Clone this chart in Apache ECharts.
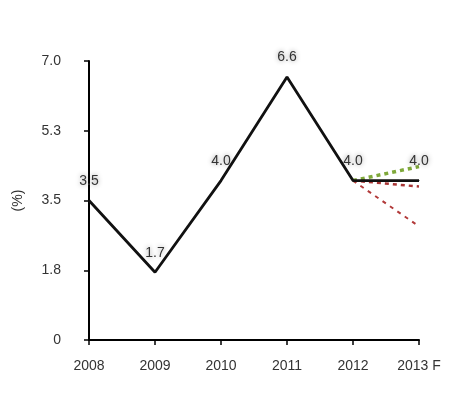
<!DOCTYPE html>
<html><head><meta charset="utf-8">
<script src="https://cdn.jsdelivr.net/npm/echarts@6/dist/echarts.min.js"></script>
<style>html,body{margin:0;padding:0;background:#fff}#c{width:474px;height:396px}</style>
</head><body><div id="c"></div>
<script>
var categories = ['2008','2009','2010','2011','2012','2013 F'];
var actual = [3.5, 1.7, 4.0, 6.6, 4.0, 4.0];
var forecastHigh = [null, null, null, null, 4.0, 4.35];
var forecastMid = [null, null, null, null, 4.0, 3.85];
var forecastLow = [null, null, null, null, 4.0, 2.85];
var labelShow = [true, true, true, true, true, true];

var chart = echarts.init(document.getElementById('c'));
var font = '"Liberation Sans", Arial, sans-serif';
chart.setOption({
  animation: false,
  grid: {left: 89, right: 55, top: 61, bottom: 56},
  xAxis: {
    type: 'category', data: categories, boundaryGap: false,
    axisLine: {lineStyle: {color: '#000', width: 2}},
    axisTick: {show: true, alignWithLabel: true, length: 5, lineStyle: {color: '#000', width: 1.5}},
    axisLabel: {color: '#333', fontSize: 14, fontFamily: font, margin: 19}
  },
  yAxis: {
    type: 'value', min: 0, max: 7, interval: 1.75,
    name: '(%)', nameLocation: 'middle', nameGap: 64, nameRotate: 90,
    nameTextStyle: {color: '#333', fontSize: 14, fontFamily: font},
    splitLine: {show: false},
    axisLine: {show: true, lineStyle: {color: '#000', width: 2}},
    axisTick: {show: true, length: 5, lineStyle: {color: '#000', width: 1.5}},
    axisLabel: {color: '#333', fontSize: 14, fontFamily: font, margin: 28,
      formatter: function (v) { return v === 0 ? '0' : v.toFixed(1); }}
  },
  series: [
    {type: 'line', data: forecastLow, symbol: 'none', z: 2,
     lineStyle: {color: '#b23a3a', width: 2, type: [4, 5]}},
    {type: 'line', data: forecastMid, symbol: 'none', z: 2,
     lineStyle: {color: '#a83434', width: 2.5, type: [4, 4]}},
    {type: 'line', data: forecastHigh, symbol: 'none', z: 2,
     lineStyle: {color: '#7fa83a', width: 3.5, type: [4, 4]}},
    {type: 'line', data: actual, symbol: 'circle', symbolSize: 1, z: 3,
     lineStyle: {color: '#111', width: 2.8},
     itemStyle: {color: '#111'},
     label: {show: true, position: 'top', distance: 12, color: '#333', fontSize: 14, fontFamily: font,
       textShadowColor: 'rgba(0,0,0,0.45)', textShadowBlur: 5,
       formatter: function (p) { return labelShow[p.dataIndex] ? p.value.toFixed(1) : ''; }}}
  ]
});
</script></body></html>
